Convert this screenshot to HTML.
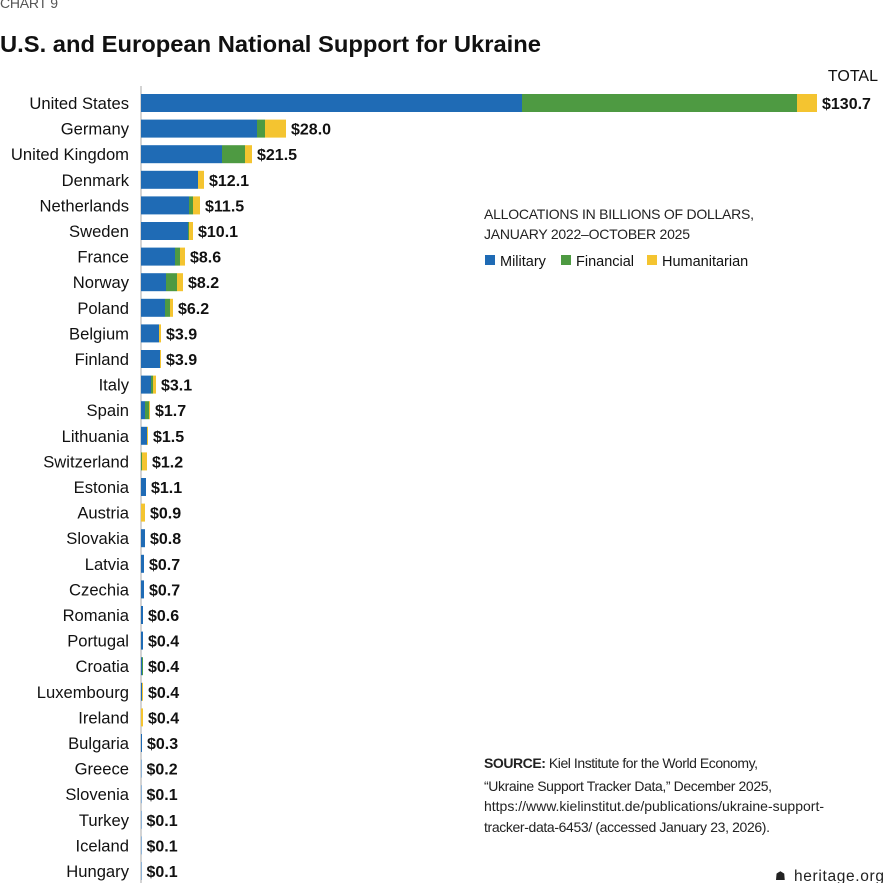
<!DOCTYPE html>
<html><head><meta charset="utf-8"><style>
body{margin:0;background:#fff}
svg{display:block;font-family:"Liberation Sans",sans-serif}
.c{font-size:16.6px;fill:#111;text-anchor:end}
.v{font-size:16px;font-weight:bold;fill:#111}
.s{font-size:14px;fill:#222}
</style></head><body>
<svg width="884" height="883" viewBox="0 0 884 883">
<text x="0" y="8" font-size="14" fill="#555" textLength="58">CHART 9</text>
<text x="0" y="52" font-size="23" font-weight="bold" fill="#111" textLength="541" lengthAdjust="spacingAndGlyphs">U.S. and European National Support for Ukraine</text>
<line x1="141" y1="86" x2="141" y2="883" stroke="#aaa" stroke-width="1"/>
<text x="878" y="81" font-size="16" fill="#111" text-anchor="end">TOTAL</text>
<g id="bars"></g>
<text x="484" y="219" class="s" textLength="270">ALLOCATIONS IN BILLIONS OF DOLLARS,</text>
<text x="484" y="239" class="s" textLength="206">JANUARY 2022–OCTOBER 2025</text>
<rect x="485" y="255" width="10" height="10" fill="#1f6bb5"/><text x="500" y="266" font-size="14.5" fill="#111">Military</text>
<rect x="561" y="255" width="10" height="10" fill="#4e9a42"/><text x="576" y="266" font-size="14.5" fill="#111">Financial</text>
<rect x="647" y="255" width="10" height="10" fill="#f4c430"/><text x="662" y="266" font-size="14.5" fill="#111">Humanitarian</text>
<text x="484" y="768" class="s" textLength="274"><tspan font-weight="bold">SOURCE:</tspan> Kiel Institute for the World Economy,</text>
<text x="484" y="791" class="s" textLength="288">“Ukraine Support Tracker Data,” December 2025,</text>
<text x="484" y="811" class="s" textLength="340">https://www.kielinstitut.de/publications/ukraine-support-</text>
<text x="484" y="832" class="s" textLength="286">tracker-data-6453/ (accessed January 23, 2026).</text>
<text x="775" y="880" font-size="12" fill="#222">☗</text>
<text x="794" y="881" font-size="15.5" fill="#222" textLength="90">heritage.org</text>
</svg>
<script>
var d=[["United States",522,797,817,"$130.7"],["Germany",257,265,286,"$28.0"],["United Kingdom",222,245,252,"$21.5"],["Denmark",198,198,204,"$12.1"],["Netherlands",189,193,200,"$11.5"],["Sweden",188,189,193,"$10.1"],["France",175,180,185,"$8.6"],["Norway",166,177,183,"$8.2"],["Poland",165,170,173,"$6.2"],["Belgium",159,159,161,"$3.9"],["Finland",160,160,161,"$3.9"],["Italy",151,153,156,"$3.1"],["Spain",145,149,150,"$1.7"],["Lithuania",147,147,148,"$1.5"],["Switzerland",141,142,147,"$1.2"],["Estonia",146,146,146,"$1.1"],["Austria",141,141,145,"$0.9"],["Slovakia",145,145,145,"$0.8"],["Latvia",144,144,144,"$0.7"],["Czechia",144,144,144,"$0.7"],["Romania",143,143,143,"$0.6"],["Portugal",143,143,143,"$0.4"],["Croatia",142,143,143,"$0.4"],["Luxembourg",142,142,143,"$0.4"],["Ireland",141,141,143,"$0.4"],["Bulgaria",142,142,142,"$0.3"],["Greece",141.5,141.5,141.5,"$0.2"],["Slovenia",141.5,141.5,141.5,"$0.1"],["Turkey",141.5,141.5,141.5,"$0.1"],["Iceland",141.5,141.5,141.5,"$0.1"],["Hungary",141.5,141.5,141.5,"$0.1"]];
var h="";d.forEach(function(r,i){var y=103+i*25.6;
h+='<text class="c" x="129" y="'+(y+6)+'">'+r[0]+'</text>';
h+='<rect x="141" y="'+(y-9)+'" width="'+(r[1]-141)+'" height="18" fill="#1f6bb5"/>';
h+='<rect x="'+r[1]+'" y="'+(y-9)+'" width="'+(r[2]-r[1])+'" height="18" fill="#4e9a42"/>';
h+='<rect x="'+r[2]+'" y="'+(y-9)+'" width="'+(r[3]-r[2])+'" height="18" fill="#f4c430"/>';
h+='<text class="v" x="'+(Math.max(r[3],141)+5)+'" y="'+(y+6)+'">'+r[4]+'</text>';});
document.getElementById("bars").innerHTML=h;
</script>
</body></html>
